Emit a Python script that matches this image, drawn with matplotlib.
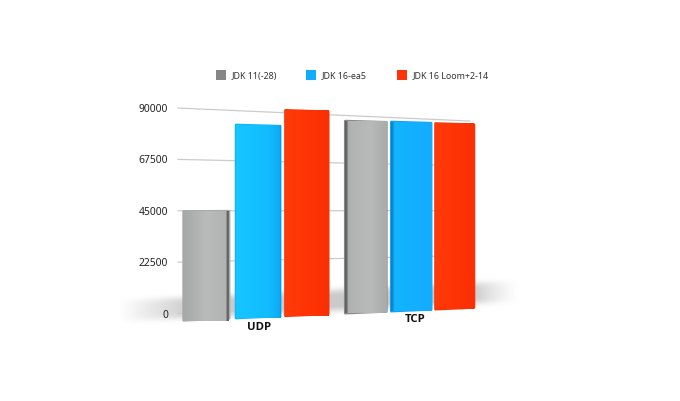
import numpy as np
import matplotlib
matplotlib.use("Agg")
import matplotlib.pyplot as plt
from matplotlib.colors import LinearSegmentedColormap
from matplotlib.transforms import Transform

plt.rcParams["font.family"] = ["Noto Sans", "DejaVu Sans"]

# --- values
groups = ["UDP", "TCP"]
series = ["JDK 11(-28)", "JDK 16-ea5", "JDK 16 Loom+2-14"]
udp_values = [44800, 80800, 87600]
tcp_values = [83800, 84000, 83900]
y_ticks = [0, 22500, 45000, 67500, 90000]

legend_colors = ["#868686", "#10aaff", "#ff3208"]
W, H = 680, 401


class Perspective(Transform):
    """(bar position, value) -> canvas pixels, keeps the tilted look of the slide."""
    input_dims = output_dims = 2

    def __init__(self, x0, x1, base0, base1, k0, k1, slot=True):
        super().__init__()
        self.x0, self.x1 = x0, x1
        self.base0, self.base1 = base0, base1
        self.k0, self.k1 = k0, k1
        self.slot = slot

    def transform_non_affine(self, values):
        values = np.asarray(values, dtype=float)
        u, v = values[:, 0], values[:, 1]
        # slot coordinates shrink a little towards the back, wall coordinates are pixels
        px = 206.5 + 51.5 * u - 0.75 * u ** 2 if self.slot else u
        t = (px - self.x0) / (self.x1 - self.x0)
        base = self.base0 + t * (self.base1 - self.base0)
        k = self.k0 + t * (self.k1 - self.k0)
        return np.column_stack([px, base - k * v])


front = Perspective(206.5, 455, 319.5, 308.5, 2.42e-3, 2.20e-3)
wall = Perspective(178, 470, 313.5, 300.3, 2.283e-3, 1.992e-3, slot=False)

fig = plt.figure(figsize=(W / 100, H / 100), dpi=100, facecolor="white")
ax = fig.add_axes([0, 0, 1, 1])
ax.axis("off")

# floor shadow
yy, xx = np.mgrid[0:H, 0:W]
centre = 309 - (xx - 150) * 0.05
fade_x = np.clip((xx - 118) / 75, 0, 1) * np.clip((520 - xx) / 48, 0, 1) ** 1.4
alpha = 0.36 * fade_x * np.exp(-(((yy - centre) / 11) ** 4))
shadow = np.zeros((H, W, 4))
shadow[..., :3] = 0.42
shadow[..., 3] = alpha
ax.imshow(shadow, extent=(0, W, H, 0), aspect="auto", zorder=1)

# back wall gridlines and tick labels
for tick in y_ticks:
    ax.plot([178, 470], [tick, tick], color="#cbcbcb", lw=0.9, zorder=2,
            transform=wall + ax.transData)
    _, ty = wall.transform([[178, tick]])[0]
    ax.text(168, ty + 1.6, str(tick), ha="right", va="center", fontsize=7.4,
            color="#222222", zorder=6)

# left to right colour stops for each bar
gray_udp = [(0, "#a6a7a7"), (0.5, "#b9baba"), (0.94, "#b2b3b3"), (0.96, "#5e5e5e"), (1, "#6e6e6e")]
blue_udp = [(0, "#16c6ff"), (0.7, "#12bcff"), (0.96, "#10acf8"), (1, "#0b96e0")]
red_bar = [(0, "#ff3a08"), (0.5, "#ff3406"), (1, "#f93004")]
gray_tcp = [(0, "#555555"), (0.05, "#777777"), (0.08, "#b0b1b1"), (0.6, "#b8b9b9"), (1, "#a9aaaa")]
blue_tcp = [(0, "#0a7fc4"), (0.05, "#0c8fd8"), (0.08, "#12b4ff"), (1, "#14acff")]
bar_stops = [gray_udp, blue_udp, red_bar, gray_tcp, blue_tcp, red_bar]
bar_edges = ["#a8a9a9", "#10b4fc", "#fb3206", "#8a8b8b", "#10a4f0", "#fb3206"]

positions = [0, 1.02, 2.01, 3.25, 4.24, 5.22]
values = udp_values + tcp_values
bars = ax.bar(positions, values, width=0.89, color=bar_edges, edgecolor=bar_edges,
              linewidth=1.6, joinstyle="round", zorder=3, transform=front + ax.transData)

for i, bar in enumerate(bars):
    corners = front.transform([[positions[i] - 0.445, 0], [positions[i] + 0.445, values[i]]])
    cmap = LinearSegmentedColormap.from_list(f"bar{i}", bar_stops[i])
    grad = np.linspace(0, 1, 256)[None, :]
    img = ax.imshow(grad, cmap=cmap, aspect="auto", zorder=4, interpolation="bilinear",
                    extent=(corners[0, 0], corners[1, 0], corners[0, 1] + 4, corners[1, 1] - 20))
    img.set_clip_path(bar)

ax.set_xlim(0, W)
ax.set_ylim(H, 0)

# category labels under the bars
group_label_pos = [(259, 327), (415, 319.5)]
for name, (gx, gy) in zip(groups, group_label_pos):
    ax.text(gx, gy, name, ha="center", va="center", fontsize=8.2, fontweight="bold",
            family=["Open Sans", "DejaVu Sans"], color="#111111", zorder=6)

# legend
legend_x = [216, 306, 397]
for name, color, lx in zip(series, legend_colors, legend_x):
    ax.fill_between([lx, lx + 10], 70, 79.5, color=color, lw=0, zorder=6)
    ax.text(lx + 16, 76, name, ha="left", va="center", fontsize=6.4, color="#333333", zorder=6)

fig.savefig("out.png", dpi=100)
